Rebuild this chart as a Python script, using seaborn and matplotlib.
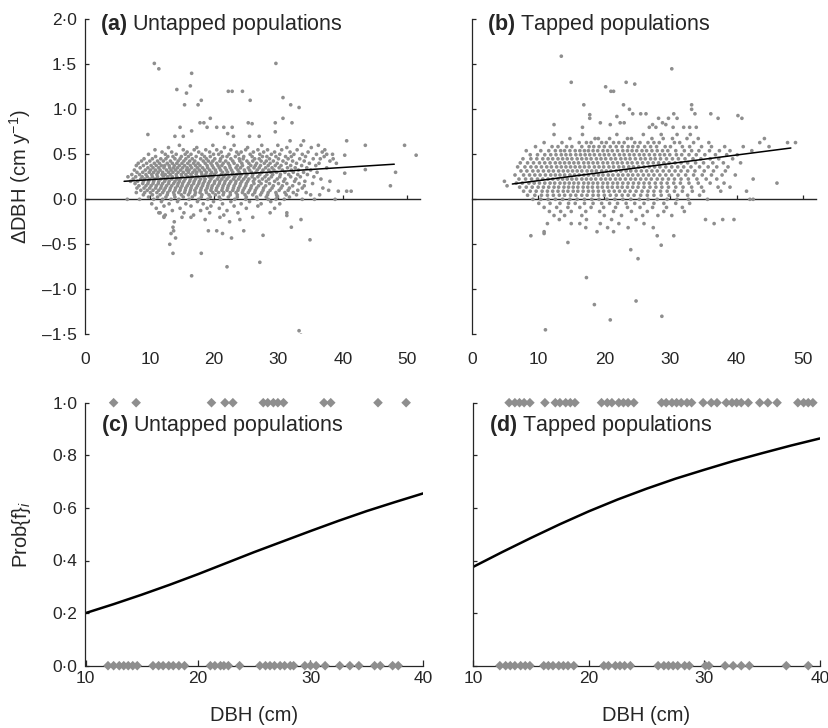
import matplotlib
matplotlib.use("Agg")
import matplotlib.pyplot as plt
import pandas as pd
import seaborn as sns

# ---------------- data ----------------
# Panel (a): untapped, growth (cm/y) vs DBH (cm); rows = (growth, [DBH values])
a_rows = [
    (0.600, [14.6, 19.8, 23.1, 27.4, 29.9, 33.5, 36.2]),
    (0.575, [12.9, 17.3, 21.6, 25.2, 31.3, 35.1]),
    (0.550, [10.8, 15.2, 16.9, 18.7, 20.4, 22.6, 24.9, 26.8, 28.3, 30.5, 32.9, 37.2]),
    (0.525, [11.9, 13.4, 15.8, 17.6, 19.3, 21.1, 23.5, 24.2, 26.1, 27.7, 29.4, 31.8, 34.6, 36.8]),
    (0.500, [9.8, 12.4, 14.1, 15.5, 16.4, 18.1, 19.9, 20.7, 22.3, 23.8, 25.6, 27.1, 28.9, 30.2, 32.4, 33.7, 35.9, 38.4]),
    (0.475, [10.9, 12.8, 13.6, 14.9, 16.0, 17.2, 18.5, 19.4, 21.3, 22.0, 23.3, 24.6, 25.9, 27.5, 28.2, 29.6, 31.1, 32.0, 34.2, 37.1]),
    (0.450, [9.1, 10.4, 11.7, 12.5, 13.9, 14.7, 15.6, 16.6, 17.9, 18.8, 20.1, 21.0, 22.6, 23.9, 24.5, 26.3, 27.0, 28.6, 30.0, 31.5, 33.3, 35.4, 36.5]),
    (0.425, [8.7, 10.0, 11.2, 12.1, 13.2, 14.4, 15.3, 16.2, 17.0, 18.3, 19.1, 19.8, 20.9, 21.8, 22.9, 24.0, 25.1, 26.0, 27.3, 28.1, 29.2, 30.7, 32.2, 34.0, 38.0]),
    (0.400, [8.2, 9.5, 10.7, 11.5, 12.7, 13.5, 14.2, 15.0, 15.9, 16.8, 17.5, 18.6, 19.5, 20.4, 21.4, 22.2, 23.1, 24.3, 25.4, 26.6, 27.8, 28.7, 29.8, 31.2, 32.8, 34.8, 36.3]),
    (0.375, [7.9, 9.0, 10.2, 11.0, 11.8, 12.3, 13.0, 13.8, 14.6, 15.4, 16.3, 17.1, 17.8, 18.9, 19.7, 20.6, 21.2, 22.4, 23.6, 24.4, 25.7, 26.4, 27.2, 28.4, 29.5, 30.4, 31.9, 33.6, 35.8]),
    (0.350, [8.5, 9.7, 10.5, 11.4, 12.2, 13.1, 13.7, 14.3, 15.1, 15.8, 16.5, 17.4, 18.2, 19.0, 19.9, 20.8, 21.7, 22.5, 23.4, 24.1, 25.3, 26.2, 27.0, 28.0, 29.0, 30.1, 31.4, 32.6, 34.4, 37.5]),
    (0.325, [7.6, 9.3, 10.1, 10.9, 11.6, 12.6, 13.3, 14.0, 14.8, 15.7, 16.1, 17.0, 17.7, 18.5, 19.3, 20.2, 21.0, 21.9, 22.7, 23.7, 24.7, 25.5, 26.7, 27.6, 28.5, 29.3, 30.6, 32.0, 33.1, 35.0]),
    (0.300, [8.0, 8.9, 9.9, 10.6, 11.3, 12.0, 12.9, 13.6, 14.4, 15.2, 16.0, 16.7, 17.3, 18.0, 18.8, 19.6, 20.3, 21.3, 22.1, 22.9, 23.9, 24.8, 25.8, 26.5, 27.4, 28.8, 29.7, 31.0, 32.3, 33.9, 36.0]),
    (0.275, [7.2, 8.4, 9.4, 10.3, 11.1, 11.9, 12.4, 13.2, 14.1, 14.9, 15.6, 16.4, 17.2, 18.1, 18.7, 19.4, 20.0, 21.1, 21.8, 22.8, 23.5, 24.2, 25.1, 26.0, 27.1, 28.2, 29.1, 30.3, 31.6, 33.0, 34.5]),
    (0.250, [6.6, 7.8, 8.8, 9.6, 10.4, 11.2, 12.1, 12.8, 13.5, 14.2, 15.0, 15.9, 16.6, 17.5, 18.4, 19.2, 19.8, 20.7, 21.5, 22.3, 23.2, 24.0, 24.9, 25.9, 26.8, 27.9, 28.9, 30.2, 31.9, 33.4, 35.5]),
    (0.225, [7.4, 8.6, 9.2, 10.0, 10.8, 11.7, 12.5, 13.4, 14.2, 14.7, 15.5, 16.3, 17.1, 17.9, 18.6, 19.5, 20.5, 21.2, 22.0, 23.0, 23.8, 24.6, 25.4, 26.3, 27.5, 28.5, 29.8, 31.0, 32.7, 36.6]),
    (0.200, [7.0, 8.1, 9.0, 9.8, 10.6, 11.4, 12.3, 13.0, 13.9, 14.6, 15.3, 16.2, 16.9, 17.7, 18.5, 19.3, 20.1, 20.9, 21.7, 22.6, 23.4, 24.3, 25.2, 26.1, 27.0, 28.1, 29.4, 30.8, 32.5, 34.1]),
    (0.175, [7.7, 8.9, 9.7, 10.5, 11.3, 12.0, 12.9, 13.7, 14.4, 15.1, 16.0, 16.8, 17.6, 18.3, 19.1, 20.0, 20.8, 21.6, 22.4, 23.3, 24.1, 25.0, 26.2, 27.3, 28.6, 30.0, 31.3, 33.2, 35.3]),
    (0.150, [8.3, 9.4, 10.2, 11.0, 11.8, 12.6, 13.4, 14.3, 15.0, 15.8, 16.5, 17.4, 18.2, 19.0, 19.7, 20.6, 21.4, 22.2, 23.1, 24.0, 24.9, 25.8, 26.9, 28.0, 29.2, 30.6, 32.2, 34.0]),
    (0.125, [8.0, 9.1, 10.0, 10.9, 11.7, 12.4, 13.2, 14.0, 14.8, 15.6, 16.4, 17.2, 18.0, 18.9, 19.6, 20.4, 21.3, 22.1, 23.0, 23.8, 24.7, 25.7, 26.6, 27.7, 29.0, 30.4, 31.7, 33.7, 36.9]),
    (0.100, [8.6, 9.6, 10.5, 11.4, 12.2, 13.1, 13.9, 14.7, 15.5, 16.3, 17.0, 17.9, 18.7, 19.5, 20.3, 21.2, 22.0, 22.9, 23.7, 24.5, 25.5, 26.4, 27.6, 28.7, 30.1, 31.5, 33.0]),
    (0.075, [7.9, 9.2, 10.1, 11.1, 12.0, 12.8, 13.7, 14.5, 15.4, 16.2, 17.1, 17.8, 18.8, 19.8, 20.7, 21.5, 22.5, 23.4, 24.4, 25.3, 26.3, 27.4, 28.4, 29.6, 31.0, 32.3, 34.3]),
    (0.050, [9.0, 10.4, 11.6, 12.7, 13.8, 14.9, 16.0, 17.0, 18.1, 19.2, 20.2, 21.4, 22.5, 23.6, 24.8, 26.0, 27.2, 28.3, 29.7, 31.2, 32.8, 35.0]),
    (0.025, [9.8, 11.2, 12.5, 13.9, 15.2, 16.6, 18.0, 19.4, 20.8, 22.2, 23.6, 25.0, 26.6, 28.1, 29.8, 31.7]),
    (0.000, [6.5, 8.4, 10.6, 12.0, 13.3, 14.5, 16.1, 17.6, 19.0, 21.0, 23.2, 24.9, 26.7, 28.4, 29.6, 30.9, 33.7, 35.6, 38.8]),
    (-0.025, [11.8, 14.3, 17.4, 19.9, 22.6, 25.5, 28.8]),
    (-0.050, [10.3, 13.0, 15.6, 18.3, 21.3, 24.2, 27.3, 30.2]),
    (-0.075, [12.2, 16.4, 19.5, 23.1, 26.8]),
    (-0.100, [11.0, 14.7, 18.9, 20.8, 25.0, 29.4]),
    (-0.125, [13.5, 17.9, 22.0]),
    (-0.150, [11.6, 15.3, 19.3, 23.7, 28.7, 31.3]),
    (-0.175, [12.4, 16.8, 21.5]),
    (-0.200, [12.2, 15.0, 16.4, 20.9, 26.0]),
    (-0.225, [18.6, 24.0, 33.5]),
    (-0.250, [13.8, 22.4]),
]
a_out_x = [10.7, 11.4, 16.5, 14.2, 16.3, 15.7, 22.2, 22.8, 24.4, 29.6, 15.4, 18.0, 17.5, 25.6,
           30.7, 31.9, 33.2, 9.7, 14.7, 16.5, 17.8, 18.4, 19.4, 18.9, 20.4, 21.5, 22.8, 25.3,
           25.9, 29.5, 30.7, 29.5, 32.1, 22.1, 23.0, 25.5, 27.0, 13.9, 15.2, 31.8, 33.9, 40.6,
           43.5, 49.6, 51.4, 40.3, 48.2, 43.5, 40.3, 47.4, 39.3, 40.6, 41.3, 37.5, 38.5, 39.0,
           38.0, 37.8, 36.4, 33.2, 33.5, 16.5, 18.0, 19.1, 20.4, 21.3, 22.7, 22.0, 24.6, 27.6,
           27.1, 32.0, 34.9, 31.3, 13.6, 13.7, 13.3, 13.1, 14.0, 13.6, 11.4, 12.2]
a_out_y = [1.51, 1.45, 1.40, 1.22, 1.26, 1.18, 1.20, 1.20, 1.20, 1.51, 1.05, 1.10, 1.05, 1.10,
           1.13, 1.05, 1.02, 0.72, 0.80, 0.76, 0.85, 0.85, 0.90, 0.80, 0.80, 0.80, 0.80, 0.85,
           0.84, 0.75, 0.90, 0.85, 0.85, 0.73, 0.70, 0.70, 0.70, 0.70, 0.70, 0.65, 0.65, 0.65,
           0.60, 0.60, 0.49, 0.49, 0.30, 0.33, 0.29, 0.15, 0.09, 0.09, 0.09, 0.50, 0.45, 0.40,
           0.20, 0.10, 0.05, -1.46, -1.51, -0.85, -0.60, -0.35, -0.35, -0.38, -0.43, -0.75, -0.35, -0.40,
           -0.70, -0.31, -0.45, -0.18, -0.31, -0.35, -0.38, -0.50, -0.43, -0.60, -0.15, -0.19]

# Panel (b): tapped
b_rows = [
    (0.720, [12.4, 16.7, 21.9, 25.9, 28.6, 31.0, 33.0]),
    (0.675, [14.8, 18.6, 19.1, 20.8, 23.5, 24.1, 27.2, 28.9, 30.3, 32.5, 34.2, 44.2]),
    (0.630, [10.9, 13.6, 16.2, 17.3, 18.0, 19.6, 20.3, 21.4, 22.2, 23.0, 24.6, 25.4, 26.6, 27.5, 28.3, 30.6, 31.4, 33.5, 35.8, 43.5, 47.7, 48.9]),
    (0.585, [9.6, 12.1, 13.0, 14.3, 15.1, 16.6, 17.7, 18.4, 19.2, 20.0, 20.9, 21.8, 22.7, 23.6, 24.3, 25.1, 26.1, 27.0, 27.9, 29.2, 30.0, 31.8, 32.9, 34.7, 36.2, 38.2, 41.0, 44.9]),
    (0.540, [8.2, 10.4, 11.6, 12.6, 13.4, 14.0, 14.8, 15.6, 16.3, 17.0, 17.6, 18.3, 19.0, 19.8, 20.5, 21.2, 22.0, 22.8, 23.5, 24.2, 24.9, 25.7, 26.4, 27.2, 28.0, 28.8, 29.6, 30.8, 32.1, 33.2, 34.3, 35.9, 37.4, 39.0, 42.3]),
    (0.495, [8.8, 9.9, 11.0, 11.9, 12.7, 13.5, 14.2, 14.9, 15.7, 16.4, 17.1, 17.8, 18.5, 19.3, 20.0, 20.7, 21.5, 22.3, 23.0, 23.8, 24.5, 25.3, 26.0, 26.8, 27.6, 28.4, 29.1, 29.9, 30.9, 31.7, 32.8, 33.9, 35.2, 36.8, 38.5, 40.1]),
    (0.450, [7.7, 8.9, 9.8, 10.7, 11.5, 12.2, 13.0, 13.7, 14.4, 15.1, 15.9, 16.6, 17.3, 18.0, 18.8, 19.5, 20.2, 21.0, 21.7, 22.5, 23.2, 23.9, 24.7, 25.5, 26.2, 27.0, 27.7, 28.5, 29.4, 30.3, 31.2, 32.2, 33.4, 34.6, 36.0, 37.3, 39.4]),
    (0.405, [7.3, 8.4, 9.3, 10.2, 11.0, 11.8, 12.6, 13.3, 14.0, 14.7, 15.4, 16.1, 16.9, 17.6, 18.3, 19.0, 19.8, 20.5, 21.3, 22.0, 22.7, 23.5, 24.2, 25.0, 25.8, 26.6, 27.4, 28.2, 29.0, 29.8, 30.7, 31.6, 32.6, 33.8, 35.0, 36.4, 38.0, 40.6]),
    (0.360, [6.9, 8.0, 8.9, 9.7, 10.5, 11.3, 12.0, 12.8, 13.5, 14.2, 14.9, 15.6, 16.3, 17.0, 17.7, 18.5, 19.2, 19.9, 20.7, 21.4, 22.2, 22.9, 23.7, 24.4, 25.2, 26.0, 26.8, 27.6, 28.4, 29.3, 30.2, 31.1, 32.0, 33.1, 34.4, 35.7, 37.0, 38.7]),
    (0.315, [7.4, 8.3, 9.2, 10.0, 10.8, 11.6, 12.3, 13.1, 13.8, 14.5, 15.2, 15.9, 16.6, 17.4, 18.1, 18.8, 19.6, 20.3, 21.0, 21.8, 22.5, 23.3, 24.0, 24.8, 25.6, 26.4, 27.2, 28.0, 28.9, 29.8, 30.7, 31.6, 32.6, 33.7, 35.1, 36.5, 38.3]),
    (0.270, [6.5, 7.8, 8.7, 9.5, 10.3, 11.1, 11.9, 12.6, 13.3, 14.0, 14.8, 15.5, 16.2, 16.9, 17.6, 18.4, 19.1, 19.8, 20.6, 21.3, 22.1, 22.8, 23.6, 24.3, 25.1, 25.9, 26.7, 27.5, 28.4, 29.3, 30.2, 31.2, 32.3, 33.5, 34.8, 36.2, 37.8, 39.8]),
    (0.225, [7.1, 8.1, 9.0, 9.9, 10.7, 11.5, 12.2, 13.0, 13.7, 14.4, 15.1, 15.8, 16.6, 17.3, 18.0, 18.7, 19.5, 20.2, 20.9, 21.7, 22.4, 23.2, 24.0, 24.7, 25.5, 26.3, 27.1, 28.0, 28.8, 29.7, 30.6, 31.6, 32.7, 34.0, 35.4, 37.0, 42.5]),
    (0.180, [6.7, 7.6, 8.6, 9.4, 10.2, 11.0, 11.8, 12.5, 13.3, 14.0, 14.7, 15.4, 16.1, 16.9, 17.6, 18.3, 19.0, 19.8, 20.5, 21.3, 22.0, 22.8, 23.6, 24.4, 25.2, 26.0, 26.8, 27.7, 28.6, 29.5, 30.5, 31.5, 32.8, 34.2, 36.0, 38.1, 46.1]),
    (0.135, [7.2, 8.2, 9.1, 10.0, 10.8, 11.6, 12.4, 13.1, 13.9, 14.6, 15.3, 16.0, 16.8, 17.5, 18.2, 19.0, 19.7, 20.5, 21.2, 22.0, 22.7, 23.5, 24.3, 25.1, 26.0, 26.9, 27.8, 28.7, 29.7, 30.8, 31.9, 33.2, 34.7, 37.2, 39.0]),
    (0.090, [7.8, 8.8, 9.7, 10.6, 11.4, 12.2, 13.0, 13.8, 14.5, 15.3, 16.0, 16.8, 17.6, 18.3, 19.1, 19.9, 20.7, 21.5, 22.3, 23.1, 23.9, 24.8, 25.7, 26.6, 27.5, 28.5, 29.5, 30.6, 31.8, 33.3, 35.0, 37.6, 41.5]),
    (0.045, [8.4, 9.5, 10.5, 11.4, 12.3, 13.2, 14.0, 14.9, 15.7, 16.6, 17.4, 18.3, 19.1, 20.0, 20.9, 21.8, 22.7, 23.6, 24.5, 25.5, 26.5, 27.5, 28.6, 29.8, 31.1, 32.6, 34.4]),
    (0.000, [9.2, 10.4, 11.5, 12.6, 13.7, 14.8, 15.9, 17.0, 18.1, 19.2, 20.4, 21.6, 22.8, 24.0, 25.3, 26.6, 28.0, 29.5, 31.0, 32.7, 35.6, 42.0, 42.5]),
    (-0.045, [10.1, 11.8, 13.3, 14.6, 15.6, 17.0, 18.3, 19.6, 20.8, 22.0, 23.3, 24.6, 26.0, 27.5, 29.0, 30.8, 32.9]),
    (-0.090, [10.9, 12.8, 14.5, 16.3, 18.0, 19.9, 21.7, 23.5, 25.4, 27.3, 29.4, 31.8]),
    (-0.135, [11.7, 13.4, 15.0, 17.2, 19.3, 21.4, 24.1, 26.5, 29.0, 32.1]),
    (-0.180, [12.4, 14.0, 16.6, 20.0, 22.6, 25.8, 28.1, 30.2]),
    (-0.225, [13.2, 17.3, 21.1, 24.8, 35.3, 37.9, 39.6]),
    (-0.270, [11.4, 15.0, 16.3, 19.4, 22.2, 26.0, 36.6]),
    (-0.315, [17.2, 20.5, 23.6, 27.4]),
    (-0.360, [10.9, 18.9, 21.4]),
    (-0.405, [8.9, 28.0, 30.5]),
]
b_out_x = [13.5, 30.2, 15.0, 23.3, 24.6, 20.2, 21.0, 21.4, 16.9, 22.9, 23.8, 24.3, 25.5, 26.3,
           33.2, 33.2, 33.7, 36.1, 37.2, 40.2, 40.8, 30.5, 29.7, 31.0, 21.9, 17.8, 17.8, 19.4,
           20.9, 22.4, 23.0, 12.4, 16.7, 28.2, 28.8, 29.3, 27.3, 26.8, 27.8, 32.0, 32.9, 33.9,
           30.4, 4.9, 5.3, 10.9, 14.5, 17.3, 18.5, 24.8, 28.7, 20.9, 11.1, 24.0, 25.1, 28.6]
b_out_y = [1.59, 1.45, 1.30, 1.30, 1.28, 1.25, 1.20, 1.20, 1.05, 1.05, 1.00, 0.95, 0.95, 0.95,
           1.05, 1.00, 0.95, 0.95, 0.90, 0.93, 0.90, 0.95, 0.90, 0.90, 0.92, 0.94, 0.90, 0.85,
           0.83, 0.85, 0.85, 0.83, 0.80, 0.90, 0.85, 0.83, 0.83, 0.80, 0.80, 0.80, 0.80, 0.80,
           0.80, 0.20, 0.15, -0.38, -0.48, -0.87, -1.17, -1.13, -1.30, -1.34, -1.45, -0.56, -0.66, -0.51]

# regression lines in (a) and (b)
fit_a_x, fit_a_y = [6.0, 48.0], [0.20, 0.39]
fit_b_x, fit_b_y = [6.1, 48.2], [0.17, 0.57]

# Panels (c), (d): observed fruiting (1) / not (0) and fitted probability
c_one = [12.5, 14.5, 21.2, 22.4, 23.1, 25.8, 26.2, 26.7, 27.1, 27.6, 31.2, 31.8, 36.0, 38.5]
c_zero = [12.0, 12.5, 13.0, 13.4, 13.8, 14.2, 14.6, 16.0, 16.5, 16.9, 17.4, 17.8, 18.3, 18.8,
          21.1, 21.5, 22.0, 22.3, 22.7, 23.7, 25.5, 26.0, 26.4, 26.8, 27.3, 27.7, 28.2, 28.5,
          29.5, 30.0, 30.5, 31.3, 32.6, 33.5, 34.3, 35.7, 36.2, 37.3, 37.8]
d_one = [13.1, 13.6, 14.0, 14.4, 14.9, 16.2, 17.1, 17.5, 18.0, 18.4, 18.8, 21.1, 21.6, 22.0,
         22.6, 23.0, 23.4, 23.9, 26.3, 26.7, 27.2, 27.6, 28.0, 28.5, 28.9, 29.9, 30.6, 31.1,
         31.9, 32.4, 32.8, 33.2, 33.8, 34.8, 35.5, 36.3, 38.1, 38.6, 39.0, 39.4]
d_zero = [12.3, 12.8, 13.2, 13.6, 14.1, 14.5, 14.9, 16.1, 16.5, 16.9, 17.4, 17.8, 18.2, 18.7,
          21.3, 21.7, 22.3, 22.7, 23.1, 23.6, 26.0, 26.5, 26.9, 27.3, 27.7, 28.3, 28.7, 30.1,
          30.4, 31.8, 32.5, 33.2, 33.9, 37.1, 39.0]
curve_x = [10, 12.5, 15, 17.5, 20, 22.5, 25, 27.5, 30, 32.5, 35, 37.5, 40]
curve_c = [0.200, 0.234, 0.270, 0.308, 0.348, 0.390, 0.432, 0.472, 0.512, 0.551, 0.588, 0.622, 0.655]
curve_d = [0.376, 0.432, 0.486, 0.538, 0.587, 0.632, 0.673, 0.711, 0.745, 0.778, 0.808, 0.837, 0.864]

top_yticks = [-1.5, -1.0, -0.5, 0.0, 0.5, 1.0, 1.5, 2.0]
top_ylabels = ["–1·5", "–1·0", "–0·5", "0·0", "0·5", "1·0", "1·5", "2·0"]
top_xticks = [0, 10, 20, 30, 40, 50]
bot_yticks = [0.0, 0.2, 0.4, 0.6, 0.8, 1.0]
bot_ylabels = ["0·0", "0·2", "0·4", "0·6", "0·8", "1·0"]
bot_xticks = [10, 20, 30, 40]


def rows_to_df(rows, ox, oy):
    xs, ys = [], []
    for y, xl in rows:
        xs += xl
        ys += [y] * len(xl)
    xs += ox
    ys += oy
    return pd.DataFrame({"dbh": xs, "growth": ys})


df_a = rows_to_df(a_rows, a_out_x, a_out_y)
df_b = rows_to_df(b_rows, b_out_x, b_out_y)

# ---------------- style ----------------
sns.set_style("ticks")
plt.rcParams["font.family"] = ["Liberation Sans", "DejaVu Sans"]
plt.rcParams["mathtext.fontset"] = "custom"
plt.rcParams["mathtext.rm"] = "Liberation Sans"
plt.rcParams["mathtext.it"] = "Liberation Sans:italic"
plt.rcParams["mathtext.bf"] = "Liberation Sans:bold"
plt.rcParams["axes.linewidth"] = 0.9

DOT = "#8e8e8e"
TICK_FS = 12.5
LAB_FS = 14.5
TITLE_FS = 15.5

fig = plt.figure(figsize=(8.29, 7.28), dpi=100)
W, H = 829.0, 728.0
ax_a = fig.add_axes([85.5 / W, (H - 334.3) / H, 334.5 / W, 315.0 / H])
ax_b = fig.add_axes([472.0 / W, (H - 334.3) / H, 344.0 / W, 315.0 / H])
ax_c = fig.add_axes([85.5 / W, (H - 665.7) / H, 337.5 / W, 263.0 / H])
ax_d = fig.add_axes([473.3 / W, (H - 665.7) / H, 346.5 / W, 263.0 / H])


def top_panel(ax, df, fx, fy, title, show_labels):
    sns.scatterplot(data=df, x="dbh", y="growth", ax=ax, s=7, color=DOT,
                    edgecolor="none", linewidth=0, legend=False)
    sns.lineplot(x=fx, y=fy, ax=ax, color="black", linewidth=1.1)
    ax.set_xlim(0, 52)
    ax.set_ylim(-1.5, 2.0)
    for s in ["top", "right", "bottom"]:
        ax.spines[s].set_visible(False)
    ax.set_xticks(top_xticks)
    ax.set_xticklabels([str(t) for t in top_xticks])
    ax.tick_params(axis="x", length=0, pad=13, labelsize=TICK_FS)
    ax.set_yticks(top_yticks)
    ax.set_yticklabels(top_ylabels if show_labels else [])
    ax.tick_params(axis="y", direction="in", length=3, width=0.9, pad=6,
                   labelsize=TICK_FS)
    sec = ax.secondary_xaxis(1.5 / 3.5)
    sec.set_xticks([10, 20, 30, 40, 50])
    sec.tick_params(direction="in", length=3, width=0.9, labelbottom=False)
    sec.spines["bottom"].set_linewidth(1.0)
    ax.set_xlabel("")
    ax.set_ylabel("")
    ax.text(0.043, 0.985, title, transform=ax.transAxes, fontsize=TITLE_FS,
            ha="left", va="center")


def bottom_panel(ax, ones, zeros, cy, title, show_labels):
    sns.scatterplot(x=ones, y=[1.0] * len(ones), ax=ax, marker="D", s=24,
                    color=DOT, edgecolor="none", linewidth=0, clip_on=False,
                    zorder=3, legend=False)
    sns.scatterplot(x=zeros, y=[0.0] * len(zeros), ax=ax, marker="D", s=24,
                    color=DOT, edgecolor="none", linewidth=0, clip_on=False,
                    zorder=3, legend=False)
    sns.lineplot(x=curve_x, y=cy, ax=ax, color="black", linewidth=1.8)
    ax.set_xlim(10, 40)
    ax.set_ylim(0, 1)
    for s in ["top", "right"]:
        ax.spines[s].set_visible(False)
    ax.set_xticks(bot_xticks)
    ax.set_xticklabels([str(t) for t in bot_xticks])
    ax.tick_params(axis="x", direction="in", length=4, width=0.9, pad=4,
                   labelsize=TICK_FS)
    ax.set_yticks(bot_yticks)
    ax.set_yticklabels(bot_ylabels if show_labels else [])
    ax.tick_params(axis="y", direction="in", length=3, width=0.9, pad=6,
                   labelsize=TICK_FS)
    ax.set_xlabel("DBH (cm)", fontsize=LAB_FS)
    ax.xaxis.set_label_coords(0.5, -0.152)
    ax.set_ylabel("")
    ax.text(0.045, 0.915, title, transform=ax.transAxes, fontsize=TITLE_FS,
            ha="left", va="center")


top_panel(ax_a, df_a, fit_a_x, fit_a_y, r"$\mathbf{(a)}$ Untapped populations", True)
top_panel(ax_b, df_b, fit_b_x, fit_b_y, r"$\mathbf{(b)}$ Tapped populations", False)
bottom_panel(ax_c, c_one, c_zero, curve_c, r"$\mathbf{(c)}$ Untapped populations", True)
bottom_panel(ax_d, d_one, d_zero, curve_d, r"$\mathbf{(d)}$ Tapped populations", False)

ax_a.set_ylabel(r"ΔDBH (cm y$^{-1}$)", fontsize=LAB_FS)
ax_a.yaxis.set_label_coords(-0.157, 0.5)
ax_c.set_ylabel(r"Prob{f}$_{i}$", fontsize=LAB_FS)
ax_c.yaxis.set_label_coords(-0.156, 0.5)

fig.savefig("out.png", dpi=100)
